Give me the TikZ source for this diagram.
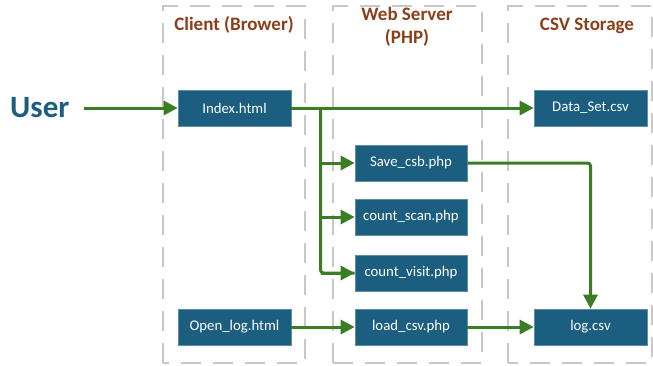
\documentclass[tikz,border=0pt]{standalone}
\usepackage{fontspec}
\setmainfont{Carlito}
\usetikzlibrary{arrows.meta}
\definecolor{boxblue}{HTML}{1B5E80}
\definecolor{flowgreen}{HTML}{3A7D25}
\definecolor{headbrown}{HTML}{8B3F1A}
\definecolor{zonegrey}{HTML}{C8C8C8}
\begin{document}
\begin{tikzpicture}[x=1pt,y=-1pt,
  zone/.style={draw=zonegrey,line width=2.6pt,dash pattern=on 20pt off 12pt},
  filebox/.style={rectangle,fill=boxblue,draw=boxblue!70!white,line width=0.6pt,
    minimum width=113pt,minimum height=36pt,inner sep=0pt,text=white,font=\fontsize{14.8}{17}\selectfont},
  head/.style={text=headbrown,font=\bfseries\fontsize{19}{23}\selectfont,align=center},
  flow/.style={draw=flowgreen,line width=3pt,-{Triangle[length=14pt,width=14pt]}},
  flowline/.style={draw=flowgreen,line width=3pt}]
\useasboundingbox (0,0) rectangle (653,365);
\draw[zone] (163,363) -- (163,6) -- (305,6) -- (305,363) -- cycle;
\draw[zone] (333,363) -- (333,6) -- (482,6) -- (482,363) -- cycle;
\draw[zone] (508,363) -- (508,6) -- (652,6) -- (652,363) -- cycle;
\node[head] (hclient) at (234,25) {Client (Brower)};
\node[head] (hweb) at (407,27) {Web Server\\(PHP)};
\node[head] (hcsv) at (587,26) {CSV Storage};
\node[text=boxblue,font=\bfseries\fontsize{31}{34}\selectfont,anchor=west,inner sep=0pt] (user) at (10,108) {User};
\node[filebox] (index) at (234.5,108) {Index.html};
\node[filebox] (openlog) at (234.5,327) {Open\_log.html};
\node[filebox,minimum width=112pt] (save) at (411,163) {Save\_csb.php};
\node[filebox,minimum width=112pt] (scan) at (411,217) {count\_scan.php};
\node[filebox,minimum width=112pt] (visit) at (411,273) {count\_visit.php};
\node[filebox,minimum width=112pt] (load) at (411,327) {load\_csv.php};
\node[filebox] (data) at (590.5,108) {Data\_Set.csv};
\node[filebox] (log) at (590.5,327) {log.csv};
\coordinate (ustart) at (84,108);
\coordinate (branch) at (320.5,108);
\draw[flow] (ustart) -- (index.west);
\draw[flow] (index.east) -- (data.west);
\draw[flowline,rounded corners=3pt] (branch) |- (visit.west);
\draw[flow] (branch |- visit.west) -- (visit.west);
\draw[flow] (branch |- save.west) -- (save.west);
\draw[flow] (branch |- scan.west) -- (scan.west);
\draw[flow,rounded corners=3pt] (save.east) -| (log.north);
\draw[flow] (openlog.east) -- (load.west);
\draw[flow] (load.east) -- (log.west);
\end{tikzpicture}
\end{document}
